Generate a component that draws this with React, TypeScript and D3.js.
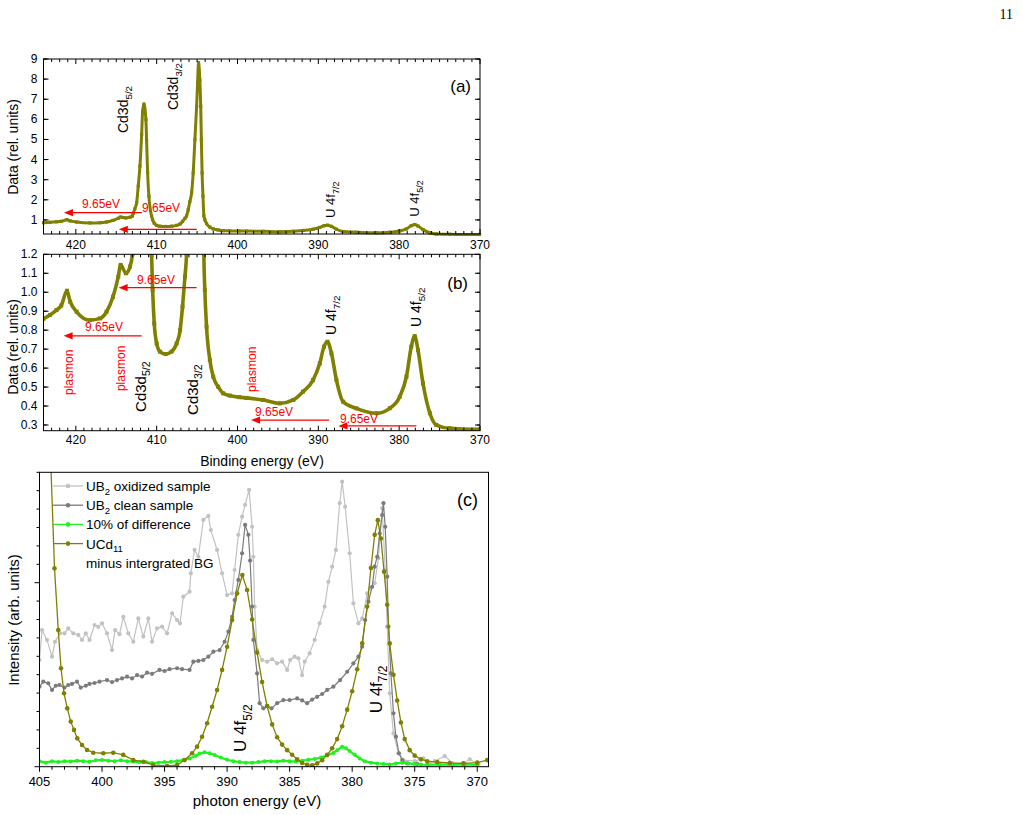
import React from 'react';
import * as d3 from 'd3';

const FONT = "'Liberation Sans', Arial, Helvetica, sans-serif";
const OLIVE = '#808000';
const RED = '#ff0000';

// UCd11 survey around Cd 3d / U 4f: binding energy (eV) and intensity (rel. units)
const BE = [
  424.0, 423.2, 422.4, 421.8, 421.1, 420.7, 419.9, 418.25, 417.0, 416.2, 415.4, 414.75, 414.46,
  413.8, 413.3, 413.0, 412.9, 412.7, 412.48, 412.28, 412.07, 411.86, 411.74, 411.58, 411.33,
  411.25, 411.12, 410.96, 410.63, 410.5, 410.3, 410.0, 409.6, 408.9, 408.15, 407.53, 407.1,
  406.8, 406.5, 406.3, 406.1, 405.9, 405.68, 405.48, 405.27, 405.06, 404.94, 404.82, 404.66,
  404.55, 404.47, 404.38, 404.27, 404.16, 404.04, 403.83, 403.42, 403.0, 402.4, 401.77,
  400.95, 399.8, 398.9, 396.83, 394.77, 393.1, 391.89, 390.65, 389.82, 389.3, 388.87, 388.38,
  387.76, 386.94, 385.3, 382.8, 381.17, 379.93, 379.1, 378.5, 378.08, 377.67, 377.05, 376.2,
  375.4, 373.75, 370.05,
];
const CPS = [
  0.86, 0.88, 0.906, 0.93, 1.008, 0.95, 0.897, 0.853, 0.862, 0.897, 0.976, 1.082, 1.144,
  1.1, 1.135, 1.2, 1.32, 1.55, 1.85, 2.68, 3.67, 5.24, 6.39, 6.76, 5.98,
  4.99, 3.34, 2.18, 1.196, 1.012, 0.836, 0.73, 0.687, 0.674, 0.687, 0.73, 0.8,
  0.924, 1.082, 1.2, 1.5, 1.9, 2.35, 3.34, 4.99, 6.64, 7.8, 8.82, 7.96,
  6.64, 4.99, 3.34, 2.18, 1.2, 1.012, 0.818, 0.643, 0.555, 0.502, 0.467,
  0.455, 0.447, 0.443, 0.432, 0.414, 0.432, 0.476, 0.537, 0.625, 0.713, 0.739, 0.678,
  0.537, 0.423, 0.388, 0.362, 0.388, 0.449, 0.555, 0.713, 0.769, 0.695, 0.519, 0.362,
  0.3, 0.283, 0.277,
];

// plasmon loss arrows: start energy and height, each pointing 9.65 eV higher
const SHIFT = 9.65;
const ARROW_A_FROM = [411.82, 405.03];
const ARROW_A_Y = [1.36, 0.53];
const ARROW_B_FROM = [405.06, 411.86, 388.67, 377.87];
const ARROW_B_Y = [1.024, 0.77, 0.326, 0.295];
const SHIFT_A_POS = [[419.24, 1.59], [411.81, 1.39]];
const SHIFT_B_POS = [[412.43, 1.043], [418.87, 0.796], [397.83, 0.348], [387.32, 0.311]];

// UB2 reference spectra and UCd11 (minus integrated background), photon energy (eV)
const PE_OX = [
  405.0, 404.8, 404.4, 404.0, 403.76, 403.36, 403.0, 402.7, 402.3, 401.9, 401.6, 401.3, 401.0,
  400.6, 400.3, 400.0, 399.6, 399.2, 398.96, 398.6, 398.3, 397.9, 397.5, 397.1, 396.7, 396.3,
  396.0, 395.6, 395.2, 394.8, 394.4, 394.0, 393.76, 393.5, 393.0, 392.9, 392.6, 392.3, 391.9,
  391.5, 391.3, 390.8, 390.4, 390.0, 389.6, 389.4, 389.1, 388.8, 388.56, 388.24, 388.0, 387.9,
  387.8, 387.6, 387.2, 386.8, 386.4, 386.0, 385.6, 385.2, 384.96, 384.6, 384.3, 384.0, 383.8,
  383.4, 383.0, 382.6, 382.2, 381.9, 381.6, 381.3, 381.0, 380.8, 380.56, 380.2, 379.9, 379.5,
  379.2, 378.8, 378.56, 378.2, 377.9, 377.6, 377.36, 377.2, 377.0, 376.7, 376.3, 375.9, 375.0,
  374.3, 373.8, 373.4, 372.6, 372.0, 371.2, 370.6, 369.9,
];
const UB2_OX = [
  0.58, 0.743, 0.689, 0.598, 0.679, 0.725, 0.725, 0.752, 0.725, 0.716, 0.689, 0.725, 0.689,
  0.77, 0.76, 0.779, 0.725, 0.634, 0.743, 0.72, 0.815, 0.725, 0.679, 0.806, 0.707, 0.806,
  0.679, 0.752, 0.761, 0.725, 0.834, 0.797, 0.779, 0.924, 0.951, 1.051, 1.178, 1.141, 1.341,
  1.363, 1.286, 1.178, 1.051, 0.933, 0.942, 1.069, 1.26, 1.359, 1.423, 1.504, 1.304, 1.141,
  0.87, 0.634, 0.58, 0.571, 0.584, 0.562, 0.571, 0.526, 0.58, 0.598, 0.589, 0.498, 0.571,
  0.616, 0.689, 0.779, 0.87, 1.005, 1.087, 1.178, 1.432, 1.549, 1.413, 1.16, 0.888, 0.779,
  0.806, 0.942, 0.97, 0.997, 1.133, 1.405, 1.069, 0.761, 0.399, 0.181, 0.073, 0.036, 0.03,
  0.045, 0.02, 0.03, 0.058, 0.02, 0.015, 0.04, 0.015,
];

const PE_CLEAN = [
  405.0, 404.7, 404.3, 404.0, 403.7, 403.4, 403.0, 402.7, 402.4, 402.0, 401.7, 401.3, 401.0,
  400.6, 400.2, 399.6, 399.2, 398.8, 398.4, 398.0, 397.6, 397.2, 396.8, 396.4, 396.0, 395.4,
  395.0, 394.6, 394.0, 393.6, 393.0, 392.7, 392.3, 391.9, 391.5, 391.1, 390.6, 390.2, 389.9,
  389.6, 389.4, 389.1, 388.8, 388.56, 388.3, 388.16, 388.0, 387.9, 387.6, 387.4, 387.1, 386.8,
  386.45, 386.0, 385.5, 385.0, 384.4, 384.0, 383.6, 383.2, 382.8, 382.4, 382.0, 381.5, 380.96,
  380.4, 379.9, 379.5, 379.2, 378.96, 378.7, 378.4, 378.2, 378.0, 377.8, 377.6, 377.5, 377.36,
  377.2, 377.1, 376.9, 376.7, 376.5, 376.26, 376.0, 375.6, 374.8,
];
const UB2_CLEAN = [
  0.435, 0.462, 0.453, 0.417, 0.44, 0.444, 0.43, 0.444, 0.45, 0.462, 0.43, 0.44, 0.45,
  0.455, 0.462, 0.471, 0.46, 0.471, 0.48, 0.489, 0.48, 0.498, 0.49, 0.511, 0.505, 0.526,
  0.52, 0.53, 0.535, 0.53, 0.526, 0.571, 0.575, 0.58, 0.598, 0.625, 0.634, 0.679, 0.734,
  0.815, 0.906, 1.015, 1.16, 1.314, 1.26, 1.12, 0.87, 0.689, 0.507, 0.345, 0.317, 0.33,
  0.317, 0.345, 0.362, 0.362, 0.371, 0.36, 0.345, 0.365, 0.38, 0.395, 0.417, 0.435, 0.471,
  0.516, 0.562, 0.598, 0.652, 0.797, 0.897, 0.978, 1.087, 1.141, 1.268, 1.368, 1.432, 1.304,
  1.033, 0.761, 0.507, 0.29, 0.163, 0.073, 0.036, 0.018, 0.015,
];

const PE_DIFF = [
  405.0, 404.5, 404.0, 403.5, 403.0, 402.5, 402.0, 401.5, 401.0, 400.5, 400.0, 399.5, 399.0,
  398.5, 398.0, 397.5, 397.0, 396.5, 396.0, 395.5, 395.0, 394.5, 394.0, 393.5, 393.0, 392.5,
  392.2, 391.8, 391.4, 391.0, 390.5, 390.0, 389.5, 389.0, 388.5, 388.0, 387.5, 387.0, 386.5,
  386.0, 385.5, 385.0, 384.5, 384.0, 383.5, 383.0, 382.5, 382.0, 381.5, 381.2, 380.8, 380.5,
  380.2, 379.8, 379.4, 379.0, 378.5, 378.0, 377.5, 377.0, 376.5, 376.0, 375.5, 375.0, 374.5,
  374.0, 373.0, 372.0, 371.0, 370.0,
];
const DIFF10 = [
  0.03, 0.022, 0.03, 0.025, 0.03, 0.028, 0.033, 0.03, 0.027, 0.035, 0.037, 0.033, 0.03,
  0.035, 0.03, 0.028, 0.025, 0.025, 0.02, 0.022, 0.025, 0.027, 0.03, 0.036, 0.045, 0.06,
  0.072, 0.078, 0.073, 0.064, 0.05, 0.038, 0.03, 0.025, 0.022, 0.022, 0.025, 0.03, 0.03,
  0.028, 0.033, 0.03, 0.028, 0.032, 0.038, 0.042, 0.05, 0.062, 0.075, 0.09, 0.108, 0.1,
  0.085, 0.065, 0.045, 0.03, 0.022, 0.018, 0.015, 0.012, 0.018, 0.022, 0.018, 0.015, 0.012,
  0.01, 0.012, 0.01, 0.012, 0.01,
];

const PE_UCD = [
  404.15, 403.8, 403.5, 403.28, 403.04, 402.78, 402.5, 402.24, 401.98, 401.6, 401.2, 400.7,
  399.9, 399.1, 398.3, 397.5, 396.7, 395.9, 394.8, 394.0, 393.4, 392.8, 392.4, 392.0, 391.6,
  391.2, 390.8, 390.4, 390.0, 389.6, 389.2, 388.78, 388.4, 388.0, 387.6, 387.2, 386.8, 386.4,
  386.0, 385.6, 385.2, 384.8, 384.4, 384.0, 383.6, 383.2, 382.8, 382.4, 382.0, 381.6, 381.2,
  380.8, 380.4, 380.0, 379.6, 379.2, 378.8, 378.5, 378.2, 377.95, 377.7, 377.45, 377.2, 377.0,
  376.7, 376.4, 376.1, 375.8, 375.4, 375.0, 374.5, 374.0, 373.2, 372.2, 371.1, 370.0, 369.2,
];
const UCD_BG = [
  1.75, 1.078, 0.743, 0.535, 0.399, 0.317, 0.245, 0.2, 0.154, 0.118, 0.091, 0.076,
  0.073, 0.076, 0.064, 0.036, 0.027, 0.009, 0.004, 0.009, 0.036, 0.073, 0.109, 0.163, 0.236,
  0.326, 0.417, 0.526, 0.652, 0.797, 0.942, 1.042, 0.96, 0.8, 0.62, 0.46, 0.33, 0.23,
  0.16, 0.12, 0.09, 0.065, 0.04, 0.02, 0.01, 0.008, 0.018, 0.035, 0.064, 0.1, 0.15,
  0.22, 0.31, 0.41, 0.53, 0.67, 0.87, 1.08, 1.26, 1.34, 1.24, 1.06, 0.88, 0.67,
  0.5, 0.36, 0.24, 0.15, 0.09, 0.06, 0.04, 0.03, 0.025, 0.02, 0.018, 0.022, 0.036,
];

type Pt = [number, number];
type Lin = d3.ScaleLinear<number, number>;

const xA = d3.scaleLinear().domain([424, 370]).range([43.5, 480]);
const yA = d3.scaleLinear().domain([0.3, 9]).range([234, 59]);
const xB = d3.scaleLinear().domain([424, 370]).range([43.5, 480]);
const yB = d3.scaleLinear().domain([0.27, 1.2]).range([430.7, 254.3]);
const xC = d3.scaleLinear().domain([405, 369.1]).range([39.5, 488.5]);
const yC = d3.scaleLinear().domain([0, 1.6]).range([766.7, 472.3]);

const steps = (a: number, b: number, s: number) =>
  d3.range(Math.round(a / s), Math.round(b / s) + 1).map((k) => +(k * s).toFixed(4));

function Axes(p: {
  x: Lin; y: Lin; xMajor: number[]; xMinor: number[]; yMajor: number[]; yMinor: number[];
  inward: boolean; mirror: boolean; xFmt: (v: number) => string; yFmt?: (v: number) => string;
  fs: number; xLabDy: number;
}) {
  const [x0, x1] = p.x.range();
  const [y1, y0] = p.y.range();
  const d = p.inward ? 1 : -1;
  const lines: JSX.Element[] = [];
  let k = 0;
  const tx = (v: number, len: number) => {
    const X = p.x(v);
    lines.push(<line key={k++} x1={X} x2={X} y1={y1} y2={y1 - d * len} />);
    if (p.mirror) lines.push(<line key={k++} x1={X} x2={X} y1={y0} y2={y0 + len} />);
  };
  const ty = (v: number, len: number) => {
    const Y = p.y(v);
    lines.push(<line key={k++} x1={x0} x2={x0 + d * len} y1={Y} y2={Y} />);
    if (p.mirror) lines.push(<line key={k++} x1={x1} x2={x1 - len} y1={Y} y2={Y} />);
  };
  p.xMajor.forEach((v) => tx(v, 5));
  p.xMinor.forEach((v) => tx(v, 3));
  p.yMajor.forEach((v) => ty(v, 5));
  p.yMinor.forEach((v) => ty(v, 3));
  return (
    <g>
      <g stroke="#000" strokeWidth={1}>{lines}</g>
      <rect x={x0} y={y0} width={x1 - x0} height={y1 - y0} fill="none" stroke="#000" strokeWidth={1} />
      <g fontSize={p.fs} textAnchor="middle">
        {p.xMajor.map((v) => (
          <text key={v} x={p.x(v)} y={y1 + p.xLabDy}>{p.xFmt(v)}</text>
        ))}
      </g>
      {p.yFmt && (
        <g fontSize={p.fs} textAnchor="end">
          {p.yMajor.map((v) => (
            <text key={v} x={x0 - 6} y={p.y(v) + 4}>{p.yFmt!(v)}</text>
          ))}
        </g>
      )}
    </g>
  );
}

// rotated peak label with a subscript, reading upwards from (x, y)
function VLabel({ x, y, main, sub, size, color = '#000' }: {
  x: number; y: number; main: string; sub?: string; size: number; color?: string;
}) {
  return (
    <text transform={`translate(${x},${y}) rotate(-90)`} fontSize={size} fill={color}>
      {main}
      {sub && <tspan dy={size * 0.3} fontSize={size * 0.7}>{sub}</tspan>}
    </text>
  );
}

function Arrow({ x1, x2, y }: { x1: number; x2: number; y: number }) {
  return (
    <g>
      <line x1={x1} x2={x2 + 7} y1={y} y2={y} stroke={RED} strokeWidth={1.3} />
      <path d={`M${x2},${y}L${x2 + 9},${y - 3.6}L${x2 + 9},${y + 3.6}Z`} fill={RED} />
    </g>
  );
}

export default function App() {
  const spec = d3.zip(BE, CPS) as Pt[];
  const lineA = d3.line<Pt>().x((d) => xA(d[0])).y((d) => yA(d[1])).curve(d3.curveMonotoneX);
  const lineB = d3.line<Pt>().x((d) => xB(d[0])).y((d) => yB(d[1])).curve(d3.curveMonotoneX);
  const lineC = d3.line<Pt>().x((d) => xC(d[0])).y((d) => yC(d[1]));

  const majX = steps(370, 420, 10);
  const minX = steps(370, 424, 1).filter((v) => v % 10 !== 0);

  const seriesC = [
    { pts: d3.zip(PE_OX, UB2_OX) as Pt[], color: '#c2c2c2', r: 2.1, w: 1.2 },
    { pts: d3.zip(PE_CLEAN, UB2_CLEAN) as Pt[], color: '#7b7b7b', r: 2.1, w: 1.2 },
    { pts: d3.zip(PE_DIFF, DIFF10) as Pt[], color: '#1ff21f', r: 2, w: 2.2 },
    { pts: d3.zip(PE_UCD, UCD_BG) as Pt[], color: OLIVE, r: 2.3, w: 1.3 },
  ];
  const legend = [
    { color: '#c2c2c2', main: 'UB', sub: '2', rest: ' oxidized sample' },
    { color: '#7b7b7b', main: 'UB', sub: '2', rest: ' clean sample' },
    { color: '#1ff21f', main: '10% of difference', sub: '', rest: '' },
    { color: OLIVE, main: 'UCd', sub: '11', rest: '' },
  ];

  return (
    <svg width={1023} height={815} style={{ position: 'absolute', left: 0, top: 0, background: '#fff' }}
      fontFamily={FONT}>
      <defs>
        <clipPath id="clipB"><rect x={43.5} y={254.3} width={436.5} height={176.4} /></clipPath>
        <clipPath id="clipC"><rect x={39.5} y={472.3} width={449} height={294.4} /></clipPath>
      </defs>
      <text x={1013} y={19} textAnchor="end" fontSize={14} fontFamily="'Liberation Serif', serif">11</text>

      {/* (a) full range */}
      <path d={lineA(spec) || ''} fill="none" stroke={OLIVE} strokeWidth={3} />
      {spec.map((d, i) => (
        <rect key={i} x={xA(d[0]) - 1.6} y={yA(d[1]) - 1.6} width={3.2} height={3.2} fill={OLIVE} />
      ))}
      <Axes x={xA} y={yA} xMajor={majX} xMinor={minX} yMajor={steps(1, 9, 1)}
        yMinor={steps(0.5, 8.5, 1)} inward mirror xFmt={(v) => `${v}`} yFmt={(v) => `${v}`}
        fs={12} xLabDy={15} />
      <text x={18} y={147} fontSize={14} textAnchor="middle" transform="rotate(-90,18,147)">Data (rel. units)</text>
      <text x={471} y={92} fontSize={17} textAnchor="end">(a)</text>
      <VLabel x={xA(413.55)} y={yA(5.32)} main="Cd3d" sub="5/2" size={14} />
      <VLabel x={xA(407.36)} y={yA(6.46)} main="Cd3d" sub="3/2" size={14} />
      <VLabel x={xA(387.94)} y={yA(1.1)} main="U 4f" sub="7/2" size={13} />
      <VLabel x={xA(377.54)} y={yA(1.16)} main="U 4f" sub="5/2" size={13} />
      {ARROW_A_FROM.map((e, i) => (
        <Arrow key={i} x1={xA(e)} x2={xA(e + SHIFT)} y={yA(ARROW_A_Y[i])} />
      ))}
      {SHIFT_A_POS.map(([e, v], i) => (
        <text key={i} x={xA(e)} y={yA(v)} fontSize={12} fill={RED}>{`${SHIFT}eV`}</text>
      ))}

      {/* (b) zoom on the weak features */}
      <g clipPath="url(#clipB)">
        <path d={lineB(spec) || ''} fill="none" stroke={OLIVE} strokeWidth={3.6} />
        {spec.map((d, i) => (
          <rect key={i} x={xB(d[0]) - 2} y={yB(d[1]) - 2} width={4} height={4} fill={OLIVE} />
        ))}
      </g>
      <Axes x={xB} y={yB} xMajor={majX} xMinor={minX} yMajor={steps(0.3, 1.2, 0.1)}
        yMinor={steps(0.35, 1.15, 0.1)} inward mirror xFmt={(v) => `${v}`}
        yFmt={(v) => v.toFixed(1)} fs={12} xLabDy={13} />
      <text x={18} y={347} fontSize={14} textAnchor="middle" transform="rotate(-90,18,347)">Data (rel. units)</text>
      <text x={262} y={466} fontSize={14} textAnchor="middle">Binding energy (eV)</text>
      <text x={468} y={289} fontSize={17} textAnchor="end">(b)</text>
      <VLabel x={xB(420.35)} y={yB(0.458)} main="plasmon" size={12} color={RED} />
      <VLabel x={xB(413.92)} y={yB(0.479)} main="plasmon" size={12} color={RED} />
      <VLabel x={xB(397.71)} y={yB(0.474)} main="plasmon" size={12} color={RED} />
      <VLabel x={xB(411.32)} y={yB(0.369)} main="Cd3d" sub="5/2" size={15} />
      <VLabel x={xB(404.89)} y={yB(0.353)} main="Cd3d" sub="3/2" size={15} />
      <VLabel x={xB(387.81)} y={yB(0.775)} main="U 4f" sub="7/2" size={14} />
      <VLabel x={xB(377.3)} y={yB(0.817)} main="U 4f" sub="5/2" size={14} />
      {ARROW_B_FROM.map((e, i) => (
        <Arrow key={i} x1={xB(e)} x2={xB(e + SHIFT)} y={yB(ARROW_B_Y[i])} />
      ))}
      {SHIFT_B_POS.map(([e, v], i) => (
        <text key={i} x={xB(e)} y={yB(v)} fontSize={12} fill={RED}>{`${SHIFT}eV`}</text>
      ))}

      {/* (c) U 4f comparison with UB2 */}
      <g clipPath="url(#clipC)">
        {seriesC.map((s, i) => (
          <g key={i}>
            <path d={lineC(s.pts) || ''} fill="none" stroke={s.color} strokeWidth={s.w} />
            {s.pts.map((d, j) => (
              <circle key={j} cx={xC(d[0])} cy={yC(d[1])} r={s.r} fill={s.color} />
            ))}
          </g>
        ))}
      </g>
      <Axes x={xC} y={yC} xMajor={steps(370, 405, 5)} xMinor={steps(370, 405, 1).filter((v) => v % 5 !== 0)}
        yMajor={[0, 1]} yMinor={steps(0.1, 1.6, 0.1).filter((v) => v !== 1)} inward={false} mirror={false}
        xFmt={(v) => `${v}`} fs={13} xLabDy={19} />
      <text x={19} y={620} fontSize={15} textAnchor="middle" transform="rotate(-90,19,620)">Intensity (arb. units)</text>
      <text x={257} y={806} fontSize={15} textAnchor="middle">photon energy (eV)</text>
      <text x={478} y={506} fontSize={18} textAnchor="end">(c)</text>
      <VLabel x={xC(388.45)} y={yC(0.08)} main="U 4f" sub="5/2" size={17} />
      <VLabel x={xC(377.6)} y={yC(0.29)} main="U 4f" sub="7/2" size={17} />
      <g fontSize={13.5}>
        {legend.map((l, i) => {
          const cy = 486 + i * 19.2;
          return (
            <g key={i}>
              <line x1={53} x2={83} y1={cy} y2={cy} stroke={l.color} strokeWidth={1.3} />
              <circle cx={68} cy={cy} r={2.3} fill={l.color} />
              <text x={86} y={cy + 5}>
                {l.main}
                {l.sub && <tspan dy={3.5} fontSize={9.5}>{l.sub}</tspan>}
                {l.rest && <tspan dy={-3.5}>{l.rest}</tspan>}
              </text>
            </g>
          );
        })}
        <text x={86} y={486 + 4 * 19.2 + 5}>minus intergrated BG</text>
      </g>
    </svg>
  );
}
